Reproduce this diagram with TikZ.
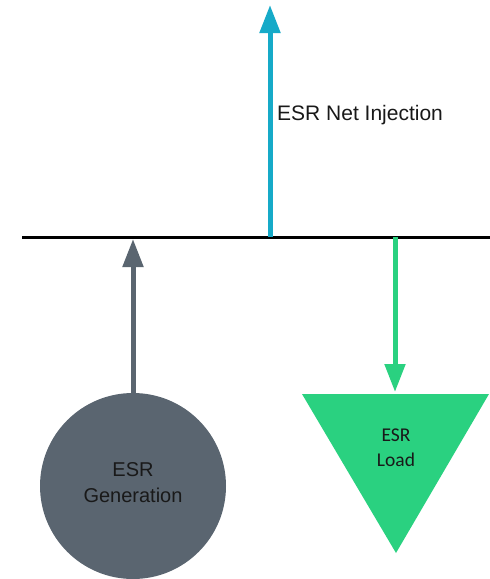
\documentclass[tikz,border=0pt]{standalone}
\usepackage{fontspec}
\setmainfont{Liberation Sans}
\newfontfamily\loadfont{Carlito}
\usetikzlibrary{arrows.meta}
\definecolor{netcyan}{RGB}{22,170,200}
\definecolor{gengray}{RGB}{90,101,112}
\definecolor{loadgreen}{RGB}{42,209,128}
\tikzset{
  busline/.style={line width=3pt, black},
  flow/.style={line width=5pt, -{Triangle[length=28pt,width=20pt]}},
  labeltext/.style={text=black!90, align=center, inner sep=0pt}
}
\begin{document}
\begin{tikzpicture}[x=1pt,y=-1pt]
\useasboundingbox (0,0) rectangle (490,579);
% bus bar
\coordinate (busL) at (22,237);
\coordinate (busR) at (490,237);
\draw[busline] (busL) -- (busR);
% net injection
\coordinate (netbase) at (270,237);
\coordinate (nettip) at (270,5);
\draw[flow, netcyan] (netbase) -- (nettip);
\node[labeltext, anchor=west, font=\fontsize{21}{25}\selectfont] (netlbl) at (277,115) {ESR Net Injection};
% generation
\node[circle, fill=gengray, minimum size=186pt, inner sep=0pt] (gen) at (133,486) {};
\node[labeltext, font=\fontsize{20}{26}\selectfont] (gentext) at (133,483) {ESR\\Generation};
\coordinate (gentip) at (133,239);
\draw[flow, gengray] (gen.north) -- (gentip);
% load
\coordinate (loadL) at (302,394);
\coordinate (loadR) at (489,394);
\coordinate (loadB) at (396,553);
\fill[loadgreen] (loadL) -- (loadR) -- (loadB) -- cycle;
\node[labeltext, font=\loadfont\fontsize{19.5}{25}\selectfont] (loadtext) at (396,448) {ESR\\Load};
\coordinate (loadtap) at (395,237);
\coordinate (loadtip) at (395,392);
\draw[flow, loadgreen] (loadtap) -- (loadtip);
\end{tikzpicture}
\end{document}
